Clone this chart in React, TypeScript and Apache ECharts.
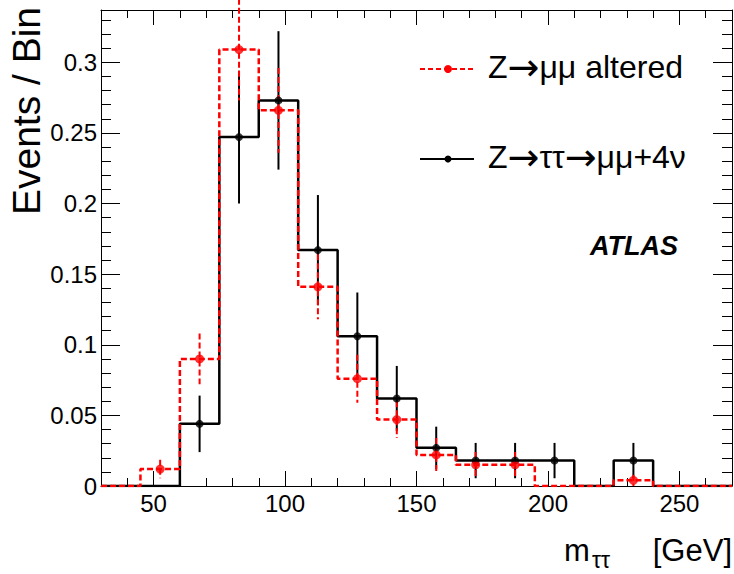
import React, { useEffect, useRef } from 'react';
import * as echarts from 'echarts';

const binEdges = [30, 45, 60, 75, 90, 105, 120, 135, 150, 165, 180, 195, 210, 225, 240, 255, 270];
const ztautauValues = [0, 0, 0.044, 0.247, 0.273, 0.167, 0.106, 0.062, 0.027, 0.018, 0.018, 0.018, 0, 0.018, 0, 0];
const ztautauErrors = [0, 0, 0.02, 0.047, 0.049, 0.039, 0.031, 0.023, 0.015, 0.0125, 0.0125, 0.0125, 0, 0.0125, 0, 0];
const zmumuValues = [0, 0.012, 0.09, 0.309, 0.266, 0.141, 0.076, 0.047, 0.022, 0.015, 0.015, 0, 0, 0.004, 0, 0];
const zmumuErrors = [0, 0.0065, 0.018, 0.036, 0.03, 0.023, 0.017, 0.013, 0.012, 0.009, 0.009, 0, 0, 0.004, 0, 0];
const xMajorTicks = [50, 100, 150, 200, 250];
const yMajorTicks = [0, 0.05, 0.1, 0.15, 0.2, 0.25, 0.3];
const xRange = [30, 270];
const yRange = [0, 0.337];

const FONT = "'Liberation Sans', Arial, Helvetica, sans-serif";
const ARROW_FONT = "'DejaVu Sans', sans-serif";

function stepData(values: number[]) {
  const pts = values.map((v, i) => [binEdges[i], v]);
  pts.push([binEdges[binEdges.length - 1], values[values.length - 1]]);
  return pts;
}

function pointData(values: number[], errors: number[]) {
  return values
    .map((v, i) => [(binEdges[i] + binEdges[i + 1]) / 2, v, errors[i]])
    .filter((d) => d[1] > 0);
}

function errorSeries(values: number[], errors: number[], color: string, dash: any) {
  return {
    type: 'custom',
    xAxisIndex: 0,
    yAxisIndex: 0,
    clip: false,
    silent: true,
    data: pointData(values, errors),
    renderItem: (params: any, api: any) => {
      const x = api.value(0);
      const y = api.value(1);
      const e = api.value(2);
      const p1 = api.coord([x, y + e]);
      const p2 = api.coord([x, y - e]);
      return {
        type: 'line',
        shape: { x1: p1[0], y1: p1[1], x2: p2[0], y2: p2[1] },
        style: { stroke: color, lineWidth: 2, lineDash: dash },
      };
    },
  };
}

const legendRich = {
  n: { fontSize: 32, fontFamily: FONT, color: '#000' },
  a: { fontSize: 38, fontFamily: ARROW_FONT, color: '#000' },
};

export default function App() {
  const ref = useRef<HTMLDivElement>(null);
  useEffect(() => {
    if (!ref.current) return;
    const chart = echarts.init(ref.current, undefined, { renderer: 'svg' });
    const xBase = { type: 'value', min: xRange[0], max: xRange[1], splitLine: { show: false } };
    const yBase = { type: 'value', min: yRange[0], max: yRange[1], splitLine: { show: false } };
    const lineCol = '#000';
    const major = (len: number, vals: number[]) => ({
      show: true,
      inside: true,
      length: len,
      customValues: vals,
      lineStyle: { color: lineCol, width: 1 },
    });
    const minor = (len: number) => ({ show: true, inside: true, length: len, lineStyle: { color: lineCol, width: 1 } });
    const option: any = {
      animation: false,
      backgroundColor: '#fff',
      grid: { left: 101, right: 2, top: 10, bottom: 88, containLabel: false, outerBoundsMode: 'none' },
      xAxis: [
        {
          ...xBase,
          position: 'bottom',
          axisLine: { show: true, onZero: false, lineStyle: { color: lineCol, width: 1 } },
          axisTick: major(15, xMajorTicks),
          axisLabel: { show: true, customValues: xMajorTicks, fontSize: 24, fontFamily: FONT, color: '#000', margin: 5 },
        },
        {
          ...xBase,
          position: 'bottom',
          interval: 10,
          axisLine: { show: false, onZero: false },
          axisTick: minor(8),
          axisLabel: { show: false },
        },
        {
          ...xBase,
          position: 'top',
          axisLine: { show: true, onZero: false, lineStyle: { color: lineCol, width: 1 } },
          axisTick: major(15, xMajorTicks),
          axisLabel: { show: false },
        },
        {
          ...xBase,
          position: 'top',
          interval: 10,
          axisLine: { show: false, onZero: false },
          axisTick: minor(8),
          axisLabel: { show: false },
        },
      ],
      yAxis: [
        {
          ...yBase,
          position: 'left',
          axisLine: { show: true, onZero: false, lineStyle: { color: lineCol, width: 1 } },
          axisTick: major(19, yMajorTicks),
          axisLabel: {
            show: true,
            customValues: yMajorTicks,
            fontSize: 24,
            fontFamily: FONT,
            color: '#000',
            margin: 4,
            formatter: (v: number) => String(v),
          },
        },
        {
          ...yBase,
          position: 'left',
          interval: 0.01,
          axisLine: { show: false, onZero: false },
          axisTick: minor(10),
          axisLabel: { show: false },
        },
        {
          ...yBase,
          position: 'right',
          axisLine: { show: true, onZero: false, lineStyle: { color: lineCol, width: 1 } },
          axisTick: major(19, yMajorTicks),
          axisLabel: { show: false },
        },
        {
          ...yBase,
          position: 'right',
          interval: 0.01,
          axisLine: { show: false, onZero: false },
          axisTick: minor(10),
          axisLabel: { show: false },
        },
      ],
      series: [
        {
          type: 'line',
          name: 'Z→ττ→μμ+4ν',
          xAxisIndex: 0,
          yAxisIndex: 0,
          step: 'end',
          symbol: 'none',
          silent: true,
          data: stepData(ztautauValues),
          lineStyle: { color: '#000', width: 2.5 },
        },
        errorSeries(ztautauValues, ztautauErrors, '#000', null),
        {
          type: 'scatter',
          xAxisIndex: 0,
          yAxisIndex: 0,
          symbol: 'circle',
          symbolSize: 8,
          silent: true,
          data: pointData(ztautauValues, ztautauErrors).map((d) => [d[0], d[1]]),
          itemStyle: { color: '#000' },
        },
        {
          type: 'line',
          name: 'Z→μμ altered',
          xAxisIndex: 0,
          yAxisIndex: 0,
          step: 'end',
          symbol: 'none',
          silent: true,
          data: stepData(zmumuValues),
          lineStyle: { color: '#ff0000', width: 2.5, type: [6, 3] },
        },
        errorSeries(zmumuValues, zmumuErrors, '#ff0000', [6, 3]),
        {
          type: 'scatter',
          xAxisIndex: 0,
          yAxisIndex: 0,
          symbol: 'circle',
          symbolSize: 9,
          silent: true,
          data: pointData(zmumuValues, zmumuErrors).map((d) => [d[0], d[1]]),
          itemStyle: { color: '#ff0000' },
        },
      ],
      graphic: [
        // y-axis title
        {
          type: 'text',
          x: 26,
          y: 111,
          rotation: Math.PI / 2,
          style: { text: 'Events / Bin', fontSize: 39, fontFamily: FONT, fill: '#000', align: 'center', verticalAlign: 'middle' },
        },
        // x-axis title
        {
          type: 'text',
          x: 564,
          y: 550,
          style: { text: 'm', fontSize: 31, fontFamily: FONT, fill: '#000', align: 'left', verticalAlign: 'middle' },
        },
        {
          type: 'text',
          x: 592,
          y: 560,
          style: { text: 'ττ', fontSize: 23, fontFamily: FONT, fill: '#000', align: 'left', verticalAlign: 'middle' },
        },
        {
          type: 'text',
          x: 732,
          y: 550,
          style: { text: '[GeV]', fontSize: 31, fontFamily: FONT, fill: '#000', align: 'right', verticalAlign: 'middle' },
        },
        // legend
        {
          type: 'line',
          shape: { x1: 420, y1: 69, x2: 474, y2: 69 },
          style: { stroke: '#ff0000', lineWidth: 2, lineDash: [5, 3] },
        },
        { type: 'circle', shape: { cx: 448, cy: 69, r: 4 }, style: { fill: '#ff0000' } },
        {
          type: 'text',
          x: 488,
          y: 67,
          style: {
            text: '{n|Z}{a|→}{n|μμ altered}',
            rich: legendRich,
            fontSize: 32,
            fontFamily: FONT,
            fill: '#000',
            align: 'left',
            verticalAlign: 'middle',
          },
        },
        {
          type: 'line',
          shape: { x1: 420, y1: 159, x2: 474, y2: 159 },
          style: { stroke: '#000', lineWidth: 2 },
        },
        { type: 'circle', shape: { cx: 448, cy: 159, r: 3.5 }, style: { fill: '#000' } },
        {
          type: 'text',
          x: 488,
          y: 157,
          style: {
            text: '{n|Z}{a|→}{n|ττ}{a|→}{n|μμ+4ν}',
            rich: legendRich,
            fontSize: 32,
            fontFamily: FONT,
            fill: '#000',
            align: 'left',
            verticalAlign: 'middle',
          },
        },
        {
          type: 'text',
          x: 590,
          y: 246,
          style: {
            text: 'ATLAS',
            fontSize: 27,
            fontWeight: 'bold',
            fontStyle: 'italic',
            fontFamily: FONT,
            fill: '#000',
            align: 'left',
            verticalAlign: 'middle',
          },
        },
      ],
    };
    chart.setOption(option);
    return () => chart.dispose();
  }, []);
  return (
    <div
      ref={ref}
      style={{ position: 'fixed', left: 0, top: 0, width: 734, height: 574, background: '#fff' }}
    />
  );
}
